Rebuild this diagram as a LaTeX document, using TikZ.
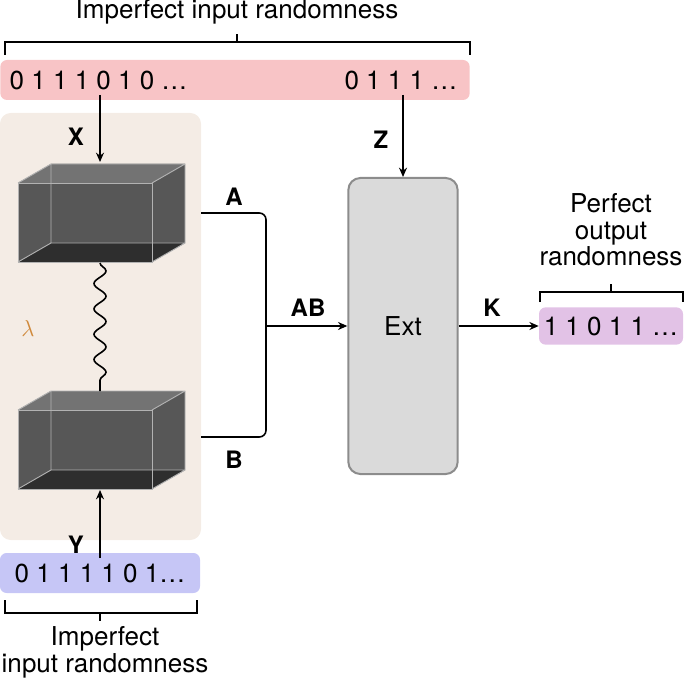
\documentclass[tikz,border=0pt]{standalone}
\usepackage{fontspec}
\setmainfont{TeX Gyre Heros}
\usetikzlibrary{positioning,decorations.pathmorphing,arrows.meta}

\definecolor{pinkbar}{HTML}{F8C4C6}
\definecolor{bluebar}{HTML}{C6C6F6}
\definecolor{purplebar}{HTML}{E2C2E6}
\definecolor{panel}{HTML}{F4ECE5}
\definecolor{extfill}{HTML}{DADADA}
\definecolor{extline}{HTML}{8C8C8C}
\definecolor{lamcol}{HTML}{D08A3C}

\tikzset{
  bar/.style={rounded corners=5pt, minimum height=30pt, inner sep=0pt},
  lbl/.style={font=\bfseries\fontsize{18}{20}\selectfont},
  txt/.style={font=\fontsize{19.5}{22}\selectfont, align=center},
  conn/.style={line width=1.2pt, -{Stealth[length=7pt,width=6pt]}},
  brack/.style={line width=0.9pt},
}

% one see-through box, front face top-left corner at (#1,#2)
\newcommand{\glassbox}[2]{
  \begin{scope}[shift={(#1,#2)}]
    \fill[black!66] (0,0) -- (33,-19) -- (167,-19) -- (167,60) -- (134,79) -- (0,79) -- cycle;
    \fill[black!55] (0,0) -- (33,-19) -- (167,-19) -- (134,0) -- cycle;
    \fill[black!82] (0,79) -- (33,60) -- (167,60) -- (134,79) -- cycle;
    \draw[black!30, line width=0.7pt] (33,-19) rectangle (167,60)
      (0,0) -- (33,-19) (134,0) -- (167,-19) (0,79) -- (33,60) (134,79) -- (167,60);
    \draw[black!30, line width=0.7pt] (0,0) rectangle (134,79);
  \end{scope}
}

\begin{document}
\begin{tikzpicture}[x=0.75pt,y=-0.75pt]
\useasboundingbox (0,0) rectangle (685,684);

% panel and bars
\fill[panel, rounded corners=8pt] (0,113) rectangle (201,540);
\node[bar, fill=pinkbar, minimum width=352pt] (inbar) at (235,80) {};
\node[txt, anchor=west] (xbits) at (5,80) {0 1 1 1 0 1 0 \dots};
\node[txt, anchor=east] (zbits) at (462,80) {0 1 1 1 \dots};
\node[bar, fill=bluebar, minimum width=150pt] (ybar) at (100,573) {};
\node[txt] (ybits) at (100,573) {0 1 1 1 1 0 1\dots};
\node[bar, fill=purplebar, minimum width=108pt, minimum height=28pt] (kbar) at (611,326) {};
\node[txt] (kbits) at (611,326) {1 1 0 1 1 \dots};

% texts
\node[txt] (toptext) at (237,12) {Imperfect input randomness};
\node[txt] (bottext) at (105,652) {Imperfect\\[-2pt]input randomness};
\node[txt] (righttext) at (611,230) {Perfect\\[-2pt]output\\[-2pt]randomness};

% brackets
\draw[brack] (5,55) -- (5,42) -- (470,42) -- (470,55) (237,42) -- (237,34);
\draw[brack] (5,600) -- (5,613) -- (197,613) -- (197,600) (100,613) -- (100,621);
\draw[brack] (540,302) -- (540,292) -- (683,292) -- (683,302) (611,292) -- (611,284);

% the two boxes
\glassbox{18}{183}
\glassbox{18}{410}
\draw[line width=1.2pt, decorate, decoration={snake, segment length=19pt, amplitude=4.5pt}]
  (100,263) -- (100,391);
\node[font=\fontsize{19}{20}\selectfont, text=lamcol] (lam) at (28,328) {$\lambda$};

% extractor
\node[draw=extline, fill=extfill, line width=1.5pt, rounded corners=9pt,
  minimum width=82pt, minimum height=222pt, txt] (ext) at (403,326) {Ext};

% connectors
\draw[conn] (100,95) -- (100,162);
\node[lbl] (xl) at (76,137) {X};
\draw[conn] (403,95) -- (ext.north);
\node[lbl] (zl) at (381,140) {Z};
\draw[conn] (100,558) -- (100,490);
\node[lbl] (yl) at (76,545) {Y};
\draw[line width=1.2pt, rounded corners=5pt] (201,213) -- (266,213) -- (266,437) -- (201,437);
\coordinate (join) at (266,326);
\draw[conn] (join) -- (ext.west);
\node[lbl] (al) at (234,197) {A};
\node[lbl] (bl) at (234,460) {B};
\node[lbl] (abl) at (308,308) {AB};
\draw[conn] (ext.east) -- (kbar.west);
\node[lbl] (kl) at (492,308) {K};
\end{tikzpicture}
\end{document}
